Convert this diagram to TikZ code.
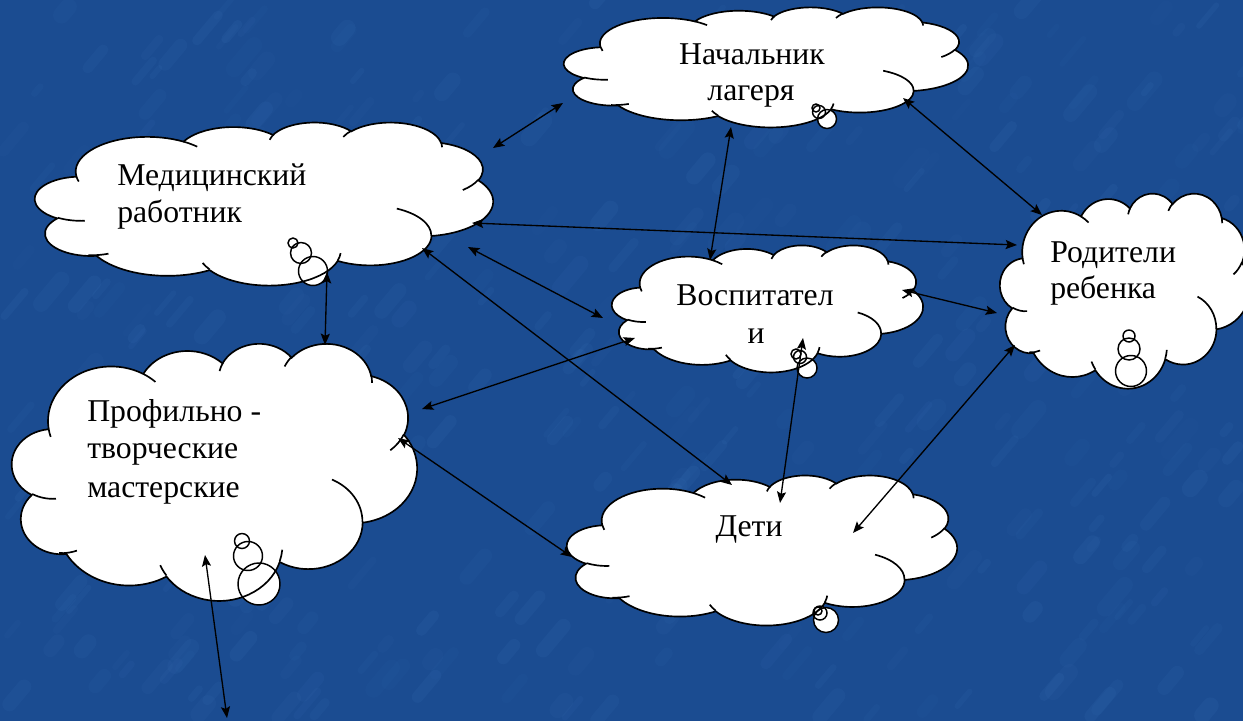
\documentclass[tikz,border=0pt]{standalone}
\usepackage{fontspec}
\setmainfont{Liberation Serif}
\usetikzlibrary{arrows.meta,calc}
\definecolor{bg}{RGB}{27,76,145}
\definecolor{streak}{RGB}{75,135,205}
\tikzset{
  oarc/.style n args={4}{insert path={arc[x radius=#1, y radius=#2,
     start angle={atan2((#1)*sin(#3),(#2)*cos(#3))},
     delta angle={mod(atan2((#1)*sin((#3)+(#4)),(#2)*cos((#3)+(#4)))-atan2((#1)*sin(#3),(#2)*cos(#3))+540,360)-180}]}},
  cloudline/.style={draw=black, line width=1.25pt},
  bubble/.style={draw=black, line width=1.1pt},
  link/.style={{Stealth[length=8.5pt,width=6.8pt,inset=1.6pt]}-{Stealth[length=8.5pt,width=6.8pt,inset=1.6pt]}, line width=1pt, black},
  lbl/.style={font=\fontsize{23.8}{28}\selectfont, inner sep=0pt, text=black},
  cbox/.style={inner sep=0pt, outer sep=0pt}
}
\def\cloudoutline{(3.9,14.37)
  [oarc={6.753}{9.19}{-190.4875}{123.7805}]
  [oarc={5.333}{7.267}{-144.1024}{89.9452}]
  [oarc={4.365}{5.945}{-145.8079}{99.723}]
  [oarc={4.857}{6.595}{-130.9861}{117.2417}]
  [oarc={5.333}{7.273}{-78.7089}{109.0269}]
  [oarc={6.775}{9.22}{-46.2673}{130.269}]
  [oarc={5.785}{7.867}{0.625}{114.0333}]
  [oarc={6.752}{9.215}{22.4516}{115.1726}]
  [oarc={7.72}{10.543}{66.2426}{75.711}]
  [oarc={4.36}{5.918}{-274.9421}{146.7356}]
  [oarc={4.345}{5.945}{-246.8285}{152.5189}] -- cycle}
\def\cloudinner{(4.693,26.177) [oarc={4.345}{5.945}{86.742}{26.4295}]
  (6.928,34.899) [oarc={4.36}{5.918}{73.6105}{19.1333}]
  (16.478,39.09) [oarc={6.752}{9.215}{137.6242}{14.0811}]
  (28.827,34.751) [oarc={6.752}{9.215}{6.4533}{15.9984}]
  (34.129,22.954) [oarc={5.785}{7.867}{-70.2924}{70.9174}]
  (41.798,15.354) [oarc={5.333}{7.273}{30.318}{27.7515}]
  (38.324,5.426) [oarc={4.857}{6.595}{-13.7443}{14.8589}]
  (29.078,3.952) [oarc={4.857}{6.595}{-149.1815}{18.1954}]
  (22.141,4.72) [oarc={4.365}{5.945}{-163.4943}{17.6864}]
  (14,5.192) [oarc={6.753}{9.19}{-66.707}{12.3194}]
  (4.127,15.789) [oarc={6.753}{9.19}{157.6544}{11.8582}]}
% name, x0, y0, w, h, bubbles x/y/r
\newcommand\mycloud[6]{%
  \foreach \bx/\by/\br in {#6} {\fill[white] (\bx,\by) circle[radius=\br];}
  \node[cbox, minimum width={#4*0.75pt}, minimum height={#5*0.75pt}] (#1) at ({#2+#4/2},{#3+#5/2}) {};
  \pgfmathsetmacro\cux{#4/43.2*0.75}%
  \pgfmathsetmacro\cuy{-#5/43.2*0.75}%
  \begin{scope}[shift={(#2,#3)}, x=\cux pt, y=\cuy pt]
    \path[fill=white, cloudline] \cloudoutline;
    \draw[cloudline] \cloudinner;
  \end{scope}
  \foreach \bx/\by/\br in {#6} {\draw[bubble] (\bx,\by) circle[radius=\br];}
}
\begin{document}
\begin{tikzpicture}[x=0.75pt,y=-0.75pt]
\useasboundingbox (0,0) rectangle (1243,721);
\clip (0,0) rectangle (1243,721);
\fill[bg] (0,0) rectangle (1243,721);
% soft mottled background texture
\pgfmathsetseed{4242}
\foreach \i in {1,...,420} {
  \pgfmathsetmacro\sx{rnd*1243}
  \pgfmathsetmacro\sy{rnd*721}
  \pgfmathsetmacro\sl{8+rnd*26}
  \pgfmathsetmacro\sw{4+rnd*9}
  \pgfmathsetmacro\so{0.03+rnd*0.06}
  \draw[streak, line width=\sw pt, line cap=round, opacity=\so]
    (\sx,\sy) -- ++({\sl*cos(-50)},{\sl*sin(-50)});
}

\mycloud{nach}{564}{7}{404}{120}{816/108/4, 819/112/6.5, 827/119/9.5}
\mycloud{med}{35}{122}{458}{163}{293/243/5, 301/253/10.5, 313/271/14.5}
\mycloud{vosp}{612}{245}{311}{127}{796/354/5, 800/357/6.5, 807/368/10}
\mycloud{prof}{12}{343}{405}{257}{242/541/7.5, 248/556/14.5, 259/584/21}
\mycloud{deti}{567}{475}{390}{150}{818/611/4, 820/613/7, 826/620/12.5}
\mycloud{rod}{1000}{193}{250}{195}{1129/336/6, 1129/349/11, 1131/371/15.5}

% labels
\node[lbl, anchor=base] (nachA) at (752,64) {Начальник};
\node[lbl, anchor=base] (nachB) at (751,100) {лагеря};
\node[lbl, anchor=base west] (medA) at (117,185) {Медицинский};
\node[lbl, anchor=base west] (medB) at (117,222) {работник};
\node[lbl, anchor=base] (vospA) at (755,305) {Воспитател};
\node[lbl, anchor=base] (vospB) at (756,343) {и};
\node[lbl, anchor=base west] (profA) at (87,421) {Профильно -};
\node[lbl, anchor=base west] (profB) at (87,458) {творческие};
\node[lbl, anchor=base west] (profC) at (87,497) {мастерские};
\node[lbl, anchor=base] (detiA) at (749,536) {Дети};
\node[lbl, anchor=base west] (rodA) at (1050,262) {Родители};
\node[lbl, anchor=base west] (rodB) at (1050,298) {ребенка};

% connectors
\coordinate (mend) at (227,718);
\draw[link] ($(med)+(229,-55.5)$) -- ($(nach)+(-203,36)$);
\draw[link] ($(nach)+(-35,60)$) -- ($(vosp)+(-57.5,-48.5)$);
\draw[link] ($(nach)+(137,31)$) -- ($(rod)+(-83,-75.5)$);
\draw[link] ($(med)+(208,19.5)$) -- ($(rod)+(-108,-45.5)$);
\draw[link] ($(med)+(204,43.5)$) -- ($(vosp)+(-164.5,9.5)$);
\draw[link] ($(med)+(158,44.5)$) -- ($(deti)+(-30,-65)$);
\draw[link] ($(med)+(63,68.5)$) -- ($(prof)+(110.5,-126.5)$);
\draw[link] ($(vosp)+(-132.5,29.5)$) -- ($(prof)+(207.5,-62.5)$);
\draw[link] ($(vosp)+(134.5,-18.5)$) -- ($(rod)+(-128,22.5)$);
\draw[link] ($(vosp)+(35.5,29.5)$) -- ($(deti)+(18,-47)$);
\draw[link] ($(rod)+(-110,54.5)$) -- ($(deti)+(91,-17)$);
\draw[link] ($(prof)+(183.5,-33.5)$) -- ($(deti)+(-190,7)$);
\draw[link] ($(prof)+(-9.5,83.5)$) -- (mend);
\end{tikzpicture}
\end{document}
